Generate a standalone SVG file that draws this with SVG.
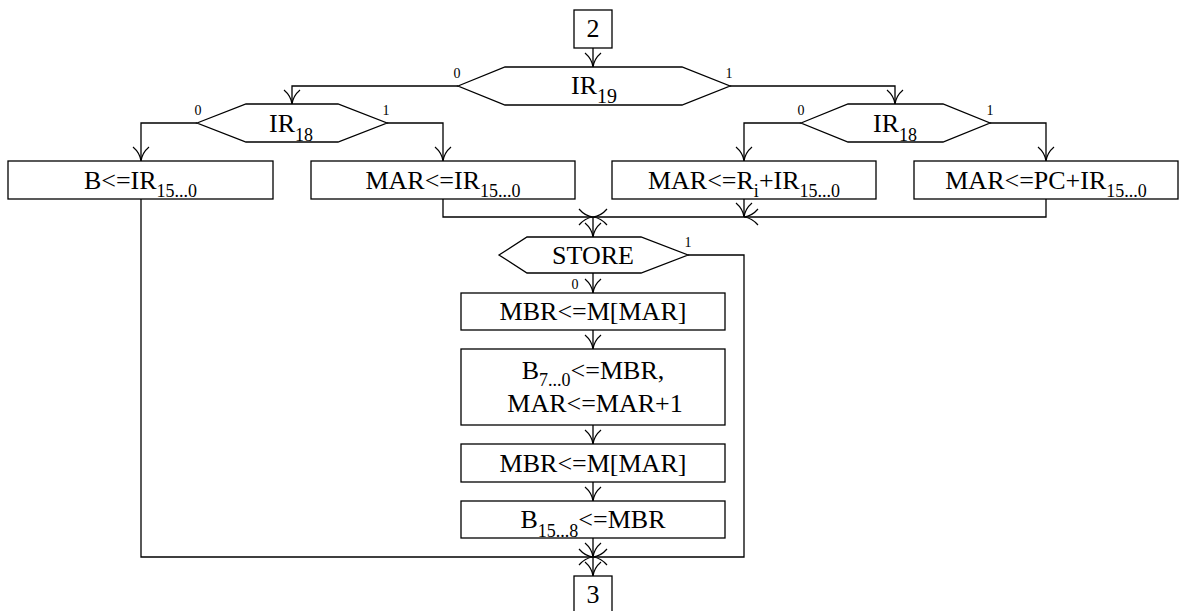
<svg xmlns="http://www.w3.org/2000/svg" width="1179" height="611" viewBox="0 0 1179 611">
  <style>
    .shape { fill: #fff; stroke: #000; stroke-width: 1.3; }
    .wire { fill: none; stroke: #000; stroke-width: 1.3; marker-end: url(#arrow); }
    text { font-family: "Liberation Serif", "Times New Roman", serif; fill: #000; }
    .t { font-size: 26px; text-anchor: middle; }
    .sub { font-size: 18px; }
    .lbl { font-size: 14px; text-anchor: middle; }
  </style>
  <defs>
    <!-- open arrowhead with flared, curved barbs; tip at the line end -->
    <marker id="arrow" markerUnits="userSpaceOnUse" markerWidth="20" markerHeight="20" refX="0" refY="0" orient="auto" overflow="visible">
      <path d="M-14,-8 Q-8,-1 0,0 M-14,8 Q-8,1 0,0" fill="none" stroke="#000" stroke-width="1.2"/>
    </marker>
  </defs>

  <!-- connectors -->
  <g id="connectors">
    <path class="wire" d="M593,48 V67"/>
    <path class="wire" d="M458,86 H292 V104"/>
    <path class="wire" d="M730,86 H895 V104"/>
    <path class="wire" d="M197,123 H141 V161"/>
    <path class="wire" d="M387,123 H443 V161"/>
    <path class="wire" d="M801,123 H744 V161"/>
    <path class="wire" d="M990,123 H1046 V161"/>
    <!-- upper merge -->
    <path class="wire" d="M443,199 V217 H593"/>
    <path class="wire" d="M744,199 V217"/>
    <path class="wire" d="M1046,199 V217 H744"/>
    <path class="wire" d="M744,217 H593"/>
    <path class="wire" d="M593,217 V237"/>
    <!-- STORE = 0 chain -->
    <path class="wire" d="M593,273 V293"/>
    <path class="wire" d="M593,330 V349"/>
    <path class="wire" d="M593,425 V444"/>
    <path class="wire" d="M593,482 V501"/>
    <!-- lower merge -->
    <path class="wire" d="M141,199 V557 H593"/>
    <path class="wire" d="M688,255 H744 V557 H593"/>
    <path class="wire" d="M593,538 V557"/>
    <path class="wire" d="M593,557 V576"/>
  </g>

  <g id="start">
    <rect class="shape" x="574" y="10" width="38" height="38"/>
    <text class="t" x="593" y="37">2</text>
  </g>

  <g id="ir19">
    <polygon class="shape" points="458,86 505,67 682,67 730,86 682,105 505,105"/>
    <text class="t" x="594" y="93.5">IR<tspan class="sub" style="font-size:20px" dy="9">19</tspan></text>
    <text class="lbl" x="457" y="78">0</text>
    <text class="lbl" x="729" y="78">1</text>
  </g>

  <g id="ir18-left">
    <polygon class="shape" points="197,123 246,104 338,104 387,123 338,142 246,142"/>
    <text class="t" x="291" y="131.5">IR<tspan class="sub" dy="9">18</tspan></text>
    <text class="lbl" x="198" y="115">0</text>
    <text class="lbl" x="386" y="115">1</text>
  </g>

  <g id="ir18-right">
    <polygon class="shape" points="801,123 848,104 943,104 990,123 943,142 848,142"/>
    <text class="t" x="895" y="131.5">IR<tspan class="sub" dy="9">18</tspan></text>
    <text class="lbl" x="801" y="115">0</text>
    <text class="lbl" x="990" y="115">1</text>
  </g>

  <g id="b-imm">
    <rect class="shape" x="8" y="161" width="265" height="38"/>
    <text class="t" x="140.5" y="188.5">B&lt;=IR<tspan class="sub" dy="8.5">15...0</tspan></text>
  </g>

  <g id="mar-imm">
    <rect class="shape" x="311" y="161" width="264" height="38"/>
    <text class="t" x="443" y="188.5">MAR&lt;=IR<tspan class="sub" dy="8.5">15...0</tspan></text>
  </g>

  <g id="mar-reg">
    <rect class="shape" x="612" y="161" width="264" height="38"/>
    <text class="t" x="744" y="188.5">MAR&lt;=R<tspan class="sub" dy="8.5">i</tspan><tspan dy="-8.5">+IR</tspan><tspan class="sub" dy="8.5">15...0</tspan></text>
  </g>

  <g id="mar-pc">
    <rect class="shape" x="914" y="161" width="264" height="38"/>
    <text class="t" x="1046" y="188.5">MAR&lt;=PC+IR<tspan class="sub" dy="8.5">15...0</tspan></text>
  </g>

  <g id="store">
    <polygon class="shape" points="499,255 527,237 641,237 688,255 641,273 527,273"/>
    <text class="t" x="593" y="264">STORE</text>
    <text class="lbl" x="688" y="247">1</text>
    <text class="lbl" x="575" y="289">0</text>
  </g>

  <g id="read-low">
    <rect class="shape" x="461" y="293" width="264" height="37"/>
    <text class="t" x="593" y="320">MBR&lt;=M[MAR]</text>
  </g>

  <g id="store-low">
    <rect class="shape" x="461" y="349" width="264" height="76"/>
    <text class="t" x="593" y="379">B<tspan class="sub" dy="7">7...0</tspan><tspan dy="-7">&lt;=MBR,</tspan></text>
    <text class="t" x="595" y="412">MAR&lt;=MAR+1</text>
  </g>

  <g id="read-high">
    <rect class="shape" x="461" y="444" width="264" height="38"/>
    <text class="t" x="593" y="471.5">MBR&lt;=M[MAR]</text>
  </g>

  <g id="store-high">
    <rect class="shape" x="461" y="501" width="264" height="37"/>
    <text class="t" x="593" y="528">B<tspan class="sub" dy="8.5">15...8</tspan><tspan dy="-8.5">&lt;=MBR</tspan></text>
  </g>

  <g id="end">
    <rect class="shape" x="574" y="576" width="38" height="38"/>
    <text class="t" x="593" y="603">3</text>
  </g>
</svg>
